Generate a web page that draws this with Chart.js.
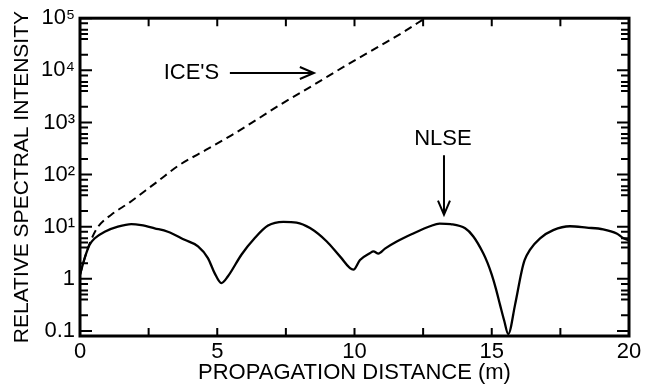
<!DOCTYPE html>
<html>
<head>
<meta charset="utf-8">
<script src="https://cdn.jsdelivr.net/npm/chart.js@4.4.1/dist/chart.umd.min.js"></script>
<style>
  html, body { margin: 0; padding: 0; background: #fff; }
  #wrap { width: 650px; height: 389px; position: relative; }
</style>
</head>
<body>
<div id="wrap"><canvas id="c" width="650" height="389"></canvas></div>
<script>
// ---- Data ----
const nlseX = [0.0, 0.17, 0.35, 0.54, 0.9, 1.38, 1.87, 2.23, 2.72, 3.2, 3.81, 4.3, 4.66, 4.9, 5.15, 5.39, 5.88, 6.36, 6.85, 7.41, 7.89, 8.38, 8.99, 9.47, 9.96, 10.2, 10.56, 10.69, 10.87, 11.11, 11.54, 12.14, 12.75, 13.1, 13.5, 14.03, 14.33, 14.69, 14.85, 15.0, 15.15, 15.3, 15.45, 15.6, 15.85, 16.09, 16.2, 16.39, 16.76, 17.24, 17.85, 18.46, 19.06, 19.55, 19.8, 20.0];
const nlseY = [1.2, 2.5, 4.5, 6.0, 8.0, 10.0, 11.2, 10.7, 9.3, 8.0, 5.6, 4.2, 2.5, 1.3, 0.83, 1.12, 2.9, 6.0, 10.5, 12.4, 12.0, 9.4, 5.2, 2.7, 1.5, 2.3, 3.1, 3.35, 3.05, 3.8, 5.2, 7.4, 10.2, 11.5, 11.2, 9.3, 6.5, 3.1, 2.0, 1.2, 0.65, 0.32, 0.16, 0.087, 0.32, 1.4, 2.3, 3.6, 6.0, 8.6, 10.2, 9.6, 8.9, 7.4, 6.0, 5.5];

const iceX = [0.0, 0.2, 0.4, 0.66, 1.14, 1.8, 2.4, 2.8, 3.6, 4.6, 5.5, 6.4, 7.3, 8.5, 9.7, 10.9, 11.8, 12.57];
const iceY = [1.2, 2.8, 5.5, 10, 17, 29, 50, 72, 150, 300, 560, 1100, 2200, 5200, 12500, 29000, 55000, 100000];

const xTickValues = [0, 5, 10, 15, 20];
const yTickValues = [0.1, 1, 10, 100, 1000, 10000, 100000];
const yTickLabels = ['0.1', '1', '10\u00B9', '10\u00B2', '10\u00B3', '10\u2074', '10\u2075'];
const yMinorFactors = [2, 4, 5, 6, 8];
const xMarkStep = 2.5;

const xTitle = 'PROPAGATION DISTANCE (m)';
const yTitle = 'RELATIVE SPECTRAL INTENSITY';

const iceLabel = { text: "ICE'S", x: 4.06, y: 8900 };
const iceArrow = { x0: 5.46, x1: 8.52, y: 8900 };
const nlseLabel = { text: 'NLSE', x: 13.22, y: 474 };
const nlseArrow = { x: 13.26, y0: 234, y1: 17 };

// ---- Chart ----
const FONT = '"Liberation Sans", Arial, Helvetica, sans-serif';

const framePlugin = {
  id: 'frame',
  afterDatasetsDraw(chart) {
    const { ctx, chartArea: a, scales } = chart;
    const xs = scales.x, ys = scales.y;
    ctx.save();
    ctx.strokeStyle = '#000';
    ctx.lineCap = 'butt';
    // ticks
    ctx.lineWidth = 2;
    ctx.beginPath();
    for (let v = xs.min; v <= xs.max + 1e-9; v += xMarkStep) {
      const px = xs.getPixelForValue(v);
      ctx.moveTo(px, a.bottom); ctx.lineTo(px, a.bottom - 8);
      ctx.moveTo(px, a.top); ctx.lineTo(px, a.top + 8);
    }
    for (const dec of yTickValues) {
      const py = ys.getPixelForValue(dec);
      ctx.moveTo(a.left, py); ctx.lineTo(a.left + 12, py);
      ctx.moveTo(a.right, py); ctx.lineTo(a.right - 12, py);
      if (dec < ys.max) {
        for (const f of yMinorFactors) {
          const mpy = ys.getPixelForValue(dec * f);
          ctx.moveTo(a.left, mpy); ctx.lineTo(a.left + 8, mpy);
          ctx.moveTo(a.right, mpy); ctx.lineTo(a.right - 8, mpy);
        }
      }
    }
    ctx.stroke();
    // frame
    ctx.lineWidth = 3;
    ctx.strokeRect(a.left, a.top, a.right - a.left, a.bottom - a.top);

    // annotations
    ctx.fillStyle = '#000';
    ctx.font = '22px ' + FONT;
    ctx.textAlign = 'center';
    ctx.textBaseline = 'middle';
    ctx.fillText(iceLabel.text, xs.getPixelForValue(iceLabel.x), ys.getPixelForValue(iceLabel.y));
    ctx.fillText(nlseLabel.text, xs.getPixelForValue(nlseLabel.x), ys.getPixelForValue(nlseLabel.y));

    ctx.lineWidth = 2;
    const drawArrow = (x1, y1, x2, y2) => {
      const ang = Math.atan2(y2 - y1, x2 - x1);
      const L = 14, W = 6;
      ctx.beginPath();
      ctx.moveTo(x1, y1); ctx.lineTo(x2, y2);
      const bx = x2 - L * Math.cos(ang), by = y2 - L * Math.sin(ang);
      ctx.moveTo(bx + W * Math.sin(ang), by - W * Math.cos(ang));
      ctx.lineTo(x2, y2);
      ctx.lineTo(bx - W * Math.sin(ang), by + W * Math.cos(ang));
      ctx.stroke();
    };
    const iy = ys.getPixelForValue(iceArrow.y);
    drawArrow(xs.getPixelForValue(iceArrow.x0), iy, xs.getPixelForValue(iceArrow.x1), iy);
    const nx = xs.getPixelForValue(nlseArrow.x);
    drawArrow(nx, ys.getPixelForValue(nlseArrow.y0), nx, ys.getPixelForValue(nlseArrow.y1));
    ctx.restore();
  }
};

new Chart(document.getElementById('c'), {
  type: 'line',
  data: {
    datasets: [
      {
        label: 'NLSE',
        data: nlseX.map((x, i) => ({ x, y: nlseY[i] })),
        borderColor: '#000',
        borderWidth: 2.3,
        pointRadius: 0,
        cubicInterpolationMode: 'monotone',
        fill: false
      },
      {
        label: "ICE'S",
        data: iceX.map((x, i) => ({ x, y: iceY[i] })),
        borderColor: '#000',
        borderWidth: 2,
        borderDash: [8, 5],
        pointRadius: 0,
        cubicInterpolationMode: 'monotone',
        fill: false
      }
    ]
  },
  options: {
    responsive: false,
    animation: false,
    layout: { padding: { top: 15, right: 21, left: 0, bottom: 0 } },
    plugins: { legend: { display: false }, tooltip: { enabled: false } },
    scales: {
      x: {
        type: 'linear',
        min: 0, max: 20,
        afterBuildTicks: s => { s.ticks = xTickValues.map(v => ({ value: v })); },
        afterFit: s => { s.height = 53; },
        grid: { display: false, drawTicks: false },
        border: { display: false },
        ticks: { color: '#000', font: { family: FONT, size: 22 }, padding: 3, maxRotation: 0 },
        title: { display: true, text: xTitle, color: '#000', font: { family: FONT, size: 22 }, padding: { top: 0, bottom: 3 } }
      },
      y: {
        type: 'logarithmic',
        min: 0.08, max: 100000,
        afterBuildTicks: s => { s.ticks = yTickValues.map(v => ({ value: v })); },
        afterFit: s => { s.width = 80; },
        grid: { display: false, drawTicks: false },
        border: { display: false },
        ticks: {
          color: '#000',
          font: { family: FONT, size: 22 },
          padding: 5,
          callback: (v, i) => yTickLabels[i]
        },
        title: { display: true, text: yTitle, color: '#000', font: { family: FONT, size: 21 }, padding: { top: 10, bottom: 0 } }
      }
    }
  },
  plugins: [framePlugin]
});
</script>
</body>
</html>
